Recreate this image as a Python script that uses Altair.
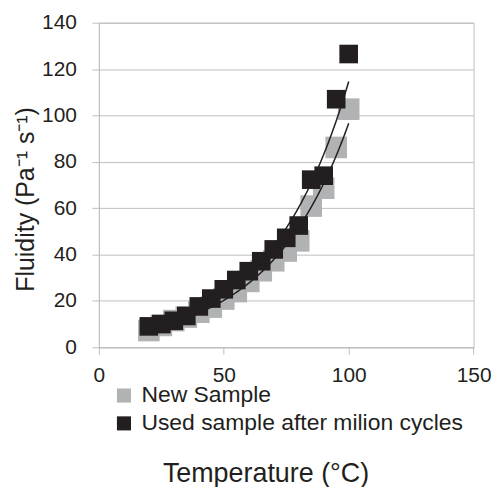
import altair as alt
import pandas as pd

# ---- data ----
temperature = [20, 25, 30, 35, 40, 45, 50, 55, 60, 65, 70, 75, 80, 85, 90, 95, 100]
new_sample = [7.2, 9.4, 11.5, 13.0, 15.1, 17.3, 20.8, 24.0, 28.4, 33.0, 37.3, 41.5,
              45.9, 60.9, 68.6, 86.2, 102.7]
used_sample = [9.0, 10.0, 11.4, 13.5, 17.6, 21.0, 25.0, 29.0, 32.8, 37.1, 42.2, 47.2,
               52.5, 72.3, 74.0, 107.0, 126.5]
series_names = ["New Sample", "Used sample after milion cycles"]
x_ticks = [0, 50, 100, 150]
y_ticks = [0, 20, 40, 60, 80, 100, 120, 140]

GREY = "#B1B2B4"
BLACK = "#231F20"
GRID = "#BEBEBE"
TEXT = "#231F20"
FONT = "Liberation Sans"

rows = []
for t, v in zip(temperature, new_sample):
    rows.append({"series": series_names[0], "temperature": t, "fluidity": v})
for t, v in zip(temperature, used_sample):
    rows.append({"series": series_names[1], "temperature": t, "fluidity": v})
df = pd.DataFrame(rows)

x_scale = alt.Scale(domain=[0, 150], nice=False, zero=False)
y_scale = alt.Scale(domain=[0, 140], nice=False)

x_axis = alt.Axis(values=x_ticks, title="Temperature (°C)", grid=False,
                  labelFontSize=21, labelPadding=10.4, labelFlush=False, labelOverlap=False,
                  tickSize=7, tickColor=GRID, domainColor=GRID, labelColor=TEXT,
                  titleFontSize=27, titleFontWeight="normal", titleColor=TEXT,
                  titleX=167.4, titleY=135, titleAlign="center", titleBaseline="alphabetic")
y_axis = alt.Axis(values=y_ticks, title="Fluidity (Pa⁻¹ s⁻¹)", grid=True, gridColor=GRID,
                  labelFontSize=21, labelPadding=15.6, labelOverlap=False,
                  tickSize=7, tickColor=GRID, domainColor=GRID, labelColor=TEXT,
                  titleFontSize=25, titleFontWeight="normal", titleColor=TEXT,
                  titleX=-66, titleY=177, titleAngle=270, titleAlign="center",
                  titleBaseline="alphabetic")

color_enc = alt.Color(
    "series:N", scale=alt.Scale(domain=series_names, range=[GREY, BLACK]),
    legend=alt.Legend(title=None, orient="none", legendX=13.7, legendY=363,
                      symbolType="square", symbolSize=200, symbolStrokeWidth=0,
                      labelFontSize=23, labelColor=TEXT, labelOffset=6, labelLimit=0,
                      rowPadding=4, padding=0))

base = alt.Chart(df)


def point_layer(name, size):
    return base.transform_filter(alt.datum.series == name).mark_square(
        opacity=1, filled=True, size=size
    ).encode(
        x=alt.X("temperature:Q", scale=x_scale, axis=x_axis),
        y=alt.Y("fluidity:Q", scale=y_scale, axis=y_axis),
        color=color_enc,
    )


new_points = point_layer(series_names[0], 470)
used_points = point_layer(series_names[1], 350)

# exponential trendline, least squares on ln(y) (as a spreadsheet trendline does)
trend = (
    base.transform_calculate(ly="log(datum.fluidity)")
    .transform_joinaggregate(mx="mean(temperature)", mly="mean(ly)", groupby=["series"])
    .transform_calculate(sxy="(datum.temperature - datum.mx) * (datum.ly - datum.mly)",
                         sxx="pow(datum.temperature - datum.mx, 2)")
    .transform_joinaggregate(Sxy="sum(sxy)", Sxx="sum(sxx)", groupby=["series"])
    .transform_calculate(b="datum.Sxy / datum.Sxx")
    .transform_calculate(a="datum.mly - datum.b * datum.mx")
    .transform_aggregate(a="mean(a)", b="mean(b)", xmin="min(temperature)",
                         xmax="max(temperature)", groupby=["series"])
    .transform_calculate(xs="sequence(datum.xmin, datum.xmax + 0.25, 0.5)")
    .transform_flatten(["xs"])
    .transform_calculate(yfit="exp(datum.a + datum.b * datum.xs)")
    .mark_line(color=BLACK, strokeWidth=1.5)
    .encode(
        x=alt.X("xs:Q", scale=x_scale, axis=x_axis),
        y=alt.Y("yfit:Q", scale=y_scale, axis=y_axis),
        detail="series:N",
    )
)

chart = (
    alt.layer(new_points, used_points, trend)
    .properties(width=376.4, height=326,
                padding={"left": 91.3, "top": 13.7, "right": 17.5, "bottom": 139},
                autosize=alt.AutoSizeParams(type="none"))
    .configure(font=FONT)
    .configure_view(stroke=GRID, strokeWidth=1)
)

chart.save("out.html", embed_options={"renderer": "svg", "actions": False})
